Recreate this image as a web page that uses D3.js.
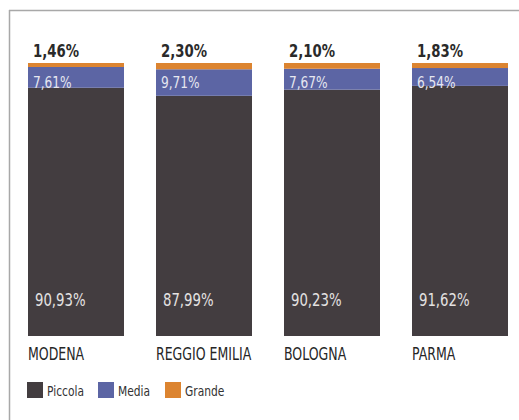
<!DOCTYPE html>
<html><head><meta charset="utf-8">
<script src="https://cdn.jsdelivr.net/npm/d3@7"></script>
<style>
html,body{margin:0;padding:0;background:#fff;}
svg{display:block;}
</style></head>
<body>
<script>
const categories = ["MODENA", "REGGIO EMILIA", "BOLOGNA", "PARMA"];
const seriesNames = ["Piccola", "Media", "Grande"];
const piccola = [90.93, 87.99, 90.23, 91.62];
const media = [7.61, 9.71, 7.67, 6.54];
const grande = [1.46, 2.30, 2.10, 1.83];
const piccolaLabels = ["90,93%", "87,99%", "90,23%", "91,62%"];
const mediaLabels = ["7,61%", "9,71%", "7,67%", "6,54%"];
const grandeLabels = ["1,46%", "2,30%", "2,10%", "1,83%"];
const colors = ["#433d40", "#5c65a4", "#dc8430"];

const W = 519, H = 420;
const font = "'DejaVu Sans Condensed','Liberation Sans Narrow','Roboto',sans-serif";
const SX = 0.82;
const svg = d3.select("body").append("svg").attr("width", W).attr("height", H);

// frame
svg.append("line").attr("x1", 9).attr("x2", W).attr("y1", 10.5).attr("y2", 10.5)
  .attr("stroke", "#a8a8a8").attr("stroke-width", 1.5);
svg.append("line").attr("x1", 9.5).attr("x2", 9.5).attr("y1", 10).attr("y2", H)
  .attr("stroke", "#a8a8a8").attr("stroke-width", 1.5);

const x = d3.scaleBand().domain(categories).range([28, 508]).paddingInner(0.25).paddingOuter(0);
const y = d3.scaleLinear().domain([0, 100]).range([336, 63]);

const rows = categories.map((c, i) => ({cat: c, Piccola: piccola[i], Media: media[i], Grande: grande[i]}));
const stack = d3.stack().keys(seriesNames)(rows);

stack.forEach((layer, li) => {
  svg.append("g").selectAll("rect").data(layer).join("rect")
    .attr("x", d => x(d.data.cat))
    .attr("width", x.bandwidth())
    .attr("y", d => y(d[1]))
    .attr("height", d => y(d[0]) - y(d[1]))
    .attr("fill", colors[li]);
});

function label(sel, fx, fy, size, weight, color, texts) {
  sel.append("g").selectAll("text").data(categories).join("text")
    .attr("transform", (d, i) => `translate(${fx(d, i)},${fy(d, i)}) scale(${SX},1)`)
    .attr("font-family", font).attr("font-size", size).attr("font-weight", weight)
    .attr("fill", color)
    .text((d, i) => texts[i]);
}

// top labels (Grande)
label(svg, d => x(d) + 5, () => 57, 18, "bold", "#2a2a2a", grandeLabels);
// media labels
label(svg, d => x(d) + 5, () => 88, 16.5, "normal", "#e6e7f0", mediaLabels);
// piccola labels
label(svg, d => x(d) + 7, () => 306, 18, "normal", "#e4e2e2", piccolaLabels);

// category axis labels
const xAxis = d3.axisBottom(x).tickSize(0).tickPadding(0);
const gx = svg.append("g").attr("transform", "translate(0,360)").call(xAxis);
gx.select(".domain").remove();
gx.selectAll("text")
  .attr("text-anchor", "start")
  .attr("x", 0).attr("y", 0).attr("dy", 0)
  .attr("transform", `translate(${-x.bandwidth() / 2},0) scale(${SX},1)`)
  .attr("font-family", font).attr("font-size", 17)
  .attr("fill", "#262626");

// legend
const legX = [27, 98, 165];
const leg = svg.append("g").selectAll("g").data(seriesNames).join("g")
  .attr("transform", (d, i) => `translate(${legX[i]},382)`);
leg.append("rect").attr("width", 16).attr("height", 16).attr("fill", (d, i) => colors[i]);
leg.append("text").attr("transform", `translate(20,14) scale(0.82,1)`)
  .attr("font-family", font).attr("font-size", 14.5).attr("fill", "#333")
  .text(d => d);
</script>
</body></html>
